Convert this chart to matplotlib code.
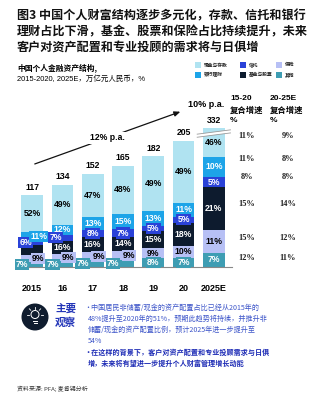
import matplotlib
matplotlib.use("Agg")
import matplotlib.pyplot as plt
from matplotlib.patches import Ellipse, Rectangle, Polygon
from matplotlib.lines import Line2D
import numpy as np

plt.rcParams['font.family'] = ['Noto Sans CJK SC', 'DejaVu Sans']

# ---------------- data ----------------
years = ["2015", "16", "17", "18", "19", "20", "2025E"]
totals = [117, 134, 152, 165, 182, 205, 332]
# shares (%), bottom -> top
other = [7, 7, 7, 7, 8, 7, 7]
insurance = [9, 9, 9, 9, 9, 10, 11]
funds_stocks = [15, 16, 16, 14, 15, 18, 21]
trust = [6, 7, 8, 7, 5, 5, 5]
bank_wm = [11, 12, 13, 15, 13, 11, 10]
cash_dep = [52, 49, 47, 48, 49, 49, 46]

cat_names = ["其他", "保险", "基金与股票", "信托", "银行理财", "现金与存款"]
cagr_15_20 = ["12%", "15%", "15%", "8%", "11%", "11%"]
cagr_20_25 = ["11%", "12%", "14%", "8%", "8%", "9%"]
cagr_1 = "12% p.a."
cagr_2 = "10% p.a."

colors = ["#3e9db3", "#b7c0f5", "#0d1b2e", "#2a42d8", "#1da4e8", "#b0e3f1"]
text_colors = ["white", "black", "white", "white", "white", "black"]
BREAK_CAP = 226  # displayed height of the broken 2025E bar

W, H = 325, 400
def fx(p): return p / W
def fy(p): return 1 - p / H

fig = plt.figure(figsize=(3.25, 4.0), dpi=100)
fig.patch.set_facecolor("white")

# axes: baseline at y=267px, 0.615 px per unit
ax_left, ax_right, ax_base, ax_top = 17, 232, 267, 95
ax = fig.add_axes([fx(ax_left), 1 - ax_base / H, (ax_right - ax_left) / W, (ax_base - ax_top) / H])
ymax = (ax_base - ax_top) / 0.615
ax.set_ylim(0, ymax)
ax.set_xlim(-0.5, 6.6)
for s in ["top", "right", "left"]:
    ax.spines[s].set_visible(False)
ax.spines["bottom"].set_color("#888888")
ax.spines["bottom"].set_linewidth(0.8)
ax.set_yticks([])
x = np.arange(len(years))
ax.set_xticks(x)
ax.set_xticklabels(years, fontsize=6.5, fontweight="bold", family=["Liberation Sans", "DejaVu Sans"])
ax.tick_params(axis="x", length=0, pad=12)
ax.set_facecolor("none")

series = [other, insurance, funds_stocks, trust, bank_wm, cash_dep]
bw = 0.72
bottoms = np.zeros(len(years))
handles = []
px_per_unit = 0.615
label_font = dict(fontsize=6.2, fontweight="bold", family=["Liberation Sans", "DejaVu Sans"])
for k, (vals, col, tc, name) in enumerate(zip(series, colors, text_colors, cat_names)):
    heights = np.array(vals) / 100.0 * np.array(totals)
    # truncate top segment of the broken last bar
    if k == len(series) - 1:
        heights[-1] = BREAK_CAP - bottoms[-1]
    b = ax.bar(x, heights, bw, bottom=bottoms, color=col, label=name, zorder=2)
    handles.append(b)
    for i in range(len(years)):
        h = heights[i]
        yc = bottoms[i] + h / 2
        xc = x[i]
        boxed = h * px_per_unit < 9.5 and i < 6
        if boxed:
            if k == 0:
                xc -= 0.33 if i < 4 else 0
            elif k == 1:
                xc += 0.2 if i < 4 else 0
            elif k == 3 and i < 2:
                xc -= 0.22
            elif k == 4 and i < 2:
                xc += 0.22
        if k == 2 and i == 0:
            continue
        bbox = dict(boxstyle="square,pad=0.12", fc=col, ec="none") if boxed else None
        ax.text(xc, yc, f"{vals[i]}%", ha="center", va="center", color=tc, bbox=bbox,
                zorder=4, **label_font)
    bottoms = bottoms + heights

# totals above bars
for i in range(len(years)):
    ax.annotate(str(totals[i]), (x[i], bottoms[i]), xytext=(0, 2.5), textcoords="offset points",
                ha="center", va="bottom", **label_font, color="black")

# break marker on 2025E bar
xb = x[-1]
yb = BREAK_CAP - 9
dx = 0.55
slope = 7
band = Polygon([[xb - dx, yb - slope / 2 - 2.5], [xb + dx, yb + slope / 2 - 2.5],
                [xb + dx, yb + slope / 2 + 2.5], [xb - dx, yb - slope / 2 + 2.5]],
               closed=True, fc="white", ec="none", zorder=5, clip_on=False)
ax.add_patch(band)
for off in (-2.5, 2.5):
    ax.plot([xb - dx, xb + dx], [yb - slope / 2 + off, yb + slope / 2 + off], color="#999999",
            lw=0.6, zorder=6, clip_on=False)

# growth arrow
ax.annotate("", xy=(4.98, 254), xytext=(0.0, 166),
            arrowprops=dict(arrowstyle="-|>,head_length=0.35,head_width=0.15", color="#111111", lw=0.9),
            zorder=3, annotation_clip=False)
ax.text(2.48, 210, cagr_1, ha="center", va="center", fontsize=6.2, fontweight="bold",
        family=["Liberation Sans", "DejaVu Sans"], bbox=dict(fc="white", ec="none", pad=1.0), zorder=4)
ax.text(5.75, 265, cagr_2, ha="center", va="center", fontsize=6.5, fontweight="bold",
        family=["Liberation Sans", "DejaVu Sans"], zorder=4, clip_on=False)

# ---------------- title ----------------
title_lines = ["图3 中国个人财富结构逐步多元化，存款、信托和银行",
               "理财占比下滑，基金、股票和保险占比持续提升，未来",
               "客户对资产配置和专业投顾的需求将与日俱增"]
for j, t in enumerate(title_lines):
    fig.text(fx(17), fy(16 + 16 * j), t, fontsize=8.7, fontweight="bold", va="center", ha="left",
             color="#111111")

fig.text(fx(17), fy(68), "中国个人金融资产结构,", fontsize=5.6, fontweight="bold", va="center")
fig.text(fx(17), fy(79), "2015-2020, 2025E，万亿元人民币，%", fontsize=5.4, va="center",
         family=["Liberation Sans", "Noto Sans CJK SC"])

# legend (order: column-wise, top segment first)
leg_order = [5, 4, 3, 2, 1, 0]
leg_cols_x = [195, 240, 276]
leg_rows_y = [65, 75]
for n, k in enumerate(leg_order):
    cx = leg_cols_x[n // 2]
    ry = leg_rows_y[n % 2]
    fig.patches.append(Rectangle((fx(cx), fy(ry + 2.5)), 5.5 / W, 5.5 / H, transform=fig.transFigure,
                                 fc=colors[k], ec="none"))
    fig.text(fx(cx + 9), fy(ry), cat_names[k], fontsize=3.4, fontweight="bold", va="center",
             ha="left", color="#222222")

# ---------------- right table ----------------
hdr_font = dict(fontsize=6.0, fontweight="bold", va="center", ha="left")
for hx, top in ((230, "15-20"), (270, "20-25E")):
    fig.text(fx(hx), fy(99), top, family=["Liberation Sans", "DejaVu Sans"], **hdr_font)
    fig.text(fx(hx), fy(110), "复合增速", **hdr_font)
    fig.text(fx(hx), fy(121), "%", family=["Liberation Sans", "DejaVu Sans"], **hdr_font)
row_y = [258, 238, 204, 177, 159, 136]
for k in range(len(cat_names)):
    fig.text(fx(247), fy(row_y[k]), cagr_15_20[k], fontsize=6.0, ha="center", va="center",
             family=["Liberation Serif", "DejaVu Serif"], fontweight="bold", color="#222222")
    fig.text(fx(288), fy(row_y[k]), cagr_20_25[k], fontsize=6.0, ha="center", va="center",
             family=["Liberation Serif", "DejaVu Serif"], fontweight="bold", color="#222222")

# ---------------- bottom observation ----------------
icon_c = (35, 317)
fig.patches.append(Ellipse((fx(icon_c[0]), fy(icon_c[1])), 27 / W, 27 / H,
                           transform=fig.transFigure, fc="#0f1c2e", ec="none"))
fig.patches.append(Ellipse((fx(35), fy(314.5)), 8 / W, 8 / H, transform=fig.transFigure,
                           fc="none", ec="white", lw=0.7))
fig.lines.append(Line2D([fx(33), fx(37)], [fy(320.5), fy(320.5)], transform=fig.transFigure,
                        color="white", lw=0.7))
fig.lines.append(Line2D([fx(33.5), fx(36.5)], [fy(322.5), fy(322.5)], transform=fig.transFigure,
                        color="white", lw=0.7))
for ang in (90, 45, 135, 0, 180):
    a = np.deg2rad(ang)
    r1, r2 = 6, 8
    fig.lines.append(Line2D([fx(35 + r1 * np.cos(a)), fx(35 + r2 * np.cos(a))],
                            [fy(314.5 - r1 * np.sin(a)), fy(314.5 - r2 * np.sin(a))],
                            transform=fig.transFigure, color="white", lw=0.6))

fig.text(fx(55), fy(309), "主要", fontsize=7.6, fontweight="bold", color="#2436b8", va="center")
fig.text(fx(55), fy(323), "观察", fontsize=7.6, fontweight="bold", color="#2436b8", va="center")

b1 = ["•中国居民非储蓄/现金的资产配置占比已经从2015年的",
      "48%提升至2020年的51%，预期此趋势将持续，并推升非",
      "储蓄/现金的资产配置比例，预计2025年进一步提升至",
      "54%"]
b2 = ["•在这样的背景下，客户对资产配置和专业投顾需求与日俱",
      "增，未来将有望进一步提升个人财富管理增长动能"]
for j, t in enumerate(b1):
    fig.text(fx(84 if j == 0 else 88), fy(308 + 11 * j), t, fontsize=5.1, color="#3d55c9",
             va="center", family=["Noto Sans CJK SC", "DejaVu Sans"])
for j, t in enumerate(b2):
    fig.text(fx(84 if j == 0 else 88), fy(352 + 11 * j), t, fontsize=5.1, color="#1d2bb5",
             va="center", fontweight="bold")

fig.text(fx(17), fy(389), "资料来源: PFA; 麦肯锡分析", fontsize=4.3, va="center", color="#333333")

fig.savefig("out.png", dpi=100, facecolor="white")
